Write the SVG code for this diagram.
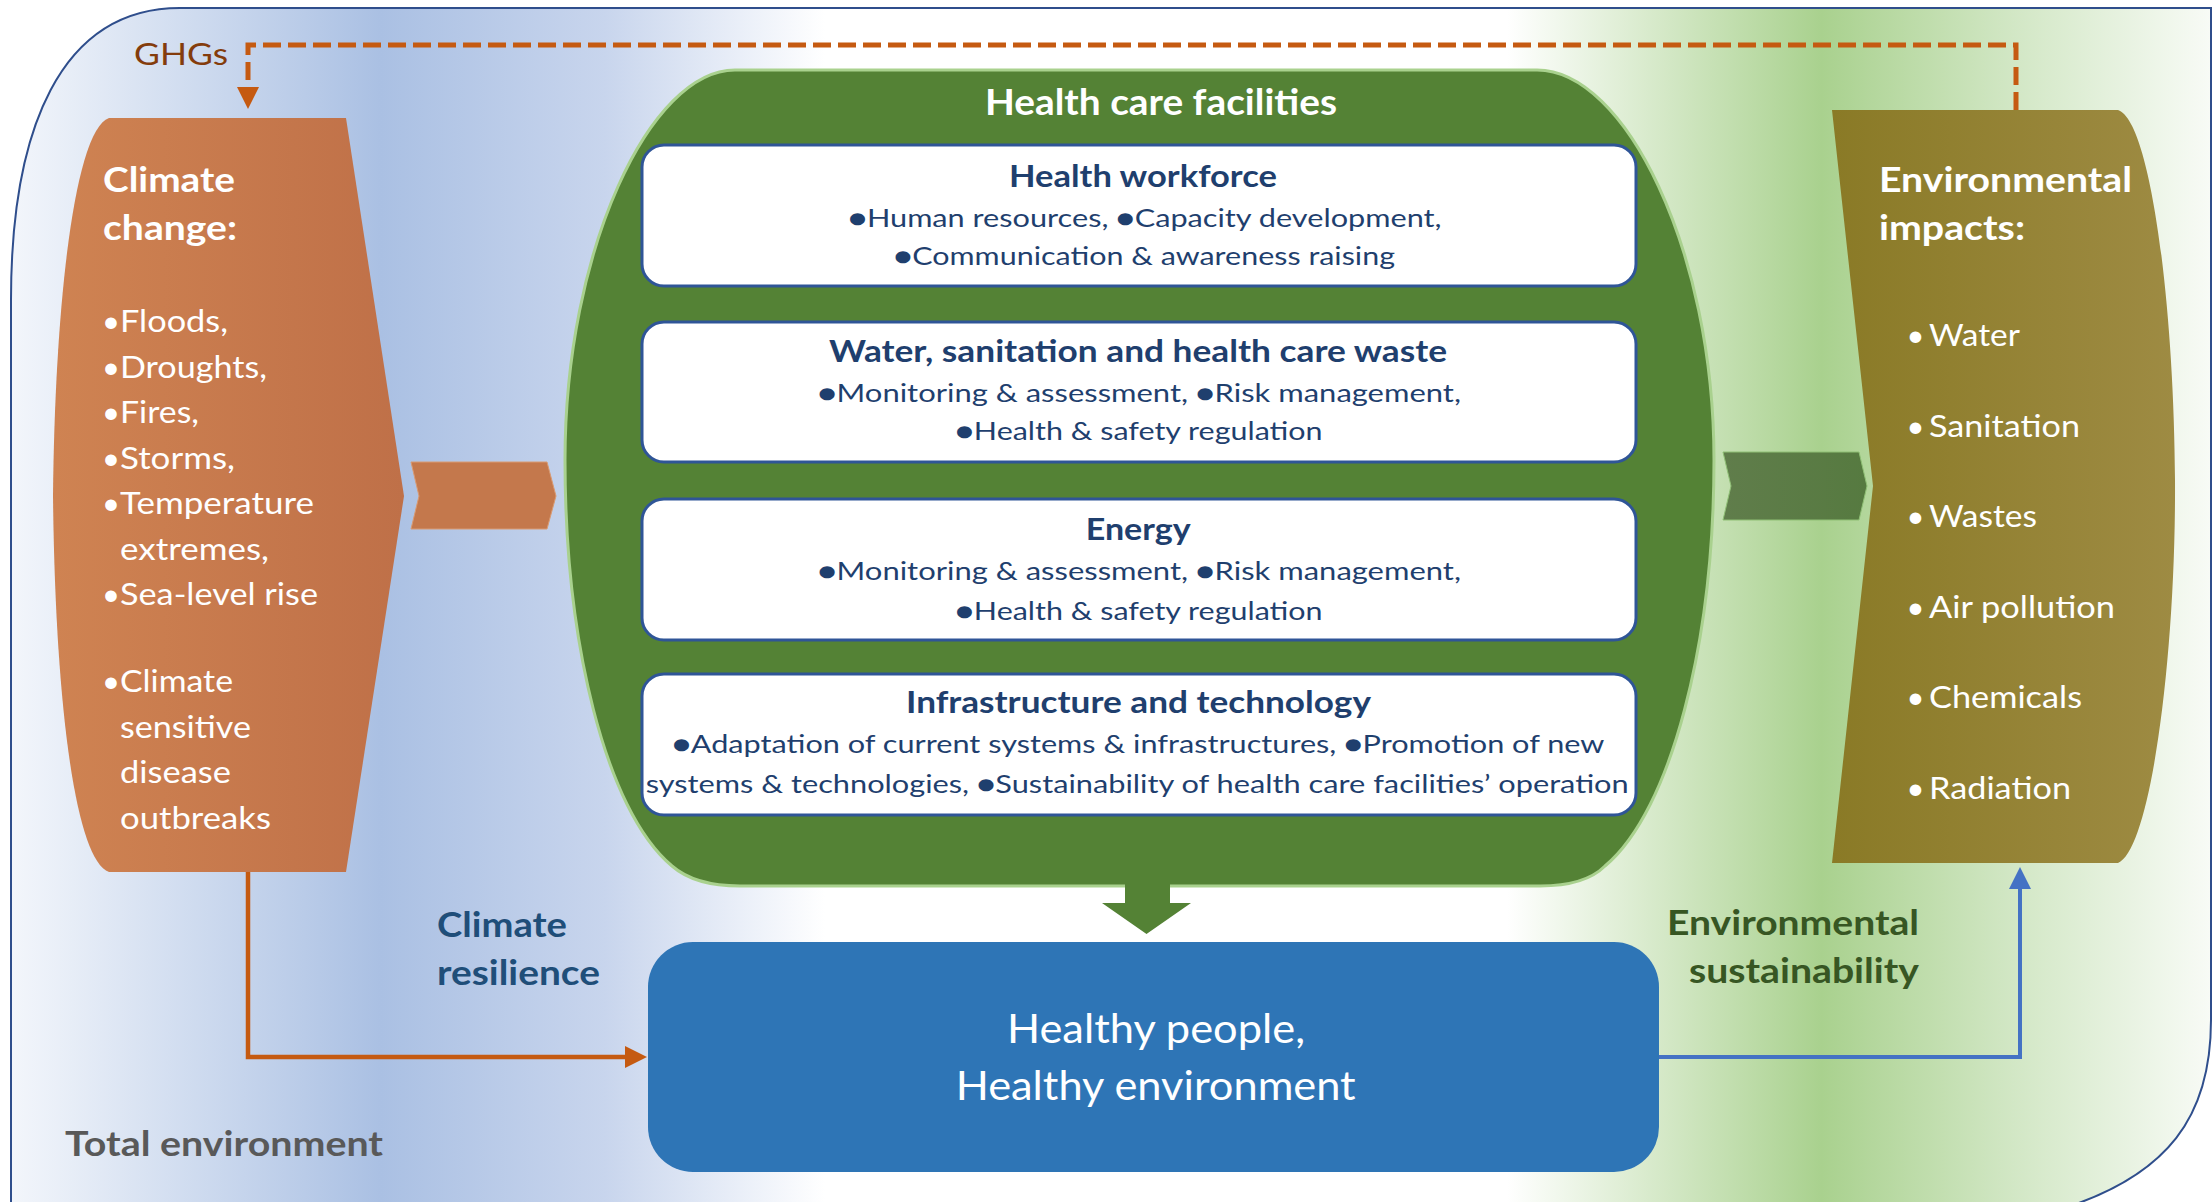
<svg xmlns="http://www.w3.org/2000/svg" width="2212" height="1202" viewBox="0 0 2212 1202">
<defs>
<linearGradient id="bg" gradientUnits="userSpaceOnUse" x1="11" y1="0" x2="2211" y2="0">
<stop offset="0" stop-color="#f3f6fb"/>
<stop offset="0.168" stop-color="#aac0e3"/>
<stop offset="0.27" stop-color="#c8d5ed"/>
<stop offset="0.37" stop-color="#ffffff"/>
<stop offset="0.68" stop-color="#ffffff"/>
<stop offset="0.823" stop-color="#a9d18e"/>
<stop offset="0.91" stop-color="#d2e7c5"/>
<stop offset="1" stop-color="#f8fbf6"/>
</linearGradient>
<linearGradient id="orange" x1="0" y1="0" x2="1" y2="0">
<stop offset="0" stop-color="#cf8352"/>
<stop offset="1" stop-color="#bf7048"/>
</linearGradient>
<linearGradient id="brown" x1="0" y1="0" x2="1" y2="0">
<stop offset="0" stop-color="#8a7a26"/>
<stop offset="1" stop-color="#9e8b43"/>
</linearGradient>
<linearGradient id="chevG" x1="0" y1="0" x2="1" y2="0">
<stop offset="0" stop-color="#607d4b"/>
<stop offset="1" stop-color="#567a40"/>
</linearGradient>
<marker id="ahO" markerUnits="userSpaceOnUse" markerWidth="22" markerHeight="22" viewBox="0 0 22 22" refX="0" refY="11" orient="auto">
<path d="M0,0 L22,11 L0,22 Z" fill="#c55a11"/>
</marker>
<marker id="ahB" markerUnits="userSpaceOnUse" markerWidth="22" markerHeight="22" viewBox="0 0 22 22" refX="0" refY="11" orient="auto">
<path d="M0,0 L22,11 L0,22 Z" fill="#4472c4"/>
</marker>
</defs>
<style>
text{font-family:Lato,"Liberation Sans","DejaVu Sans",sans-serif}
.b{font-weight:700}
.w{fill:#ffffff}
.nb{fill:#1f3f6e}
.box{fill:#ffffff;stroke:#2f5597;stroke-width:3}
.conn{fill:none}
</style>

<g id="total-environment">
<path d="M11,1230 V300 C11,130 60,8 180,8 H2211 V1020 C2211,1110 2175,1180 2040,1215 L11,1230 Z" fill="url(#bg)" stroke="#2f4e8c" stroke-width="2"/>
<text class="b" x="65" y="1156" font-size="35" fill="#595959" textLength="318" lengthAdjust="spacingAndGlyphs">Total environment</text>
</g>

<g id="climate-change">
<path d="M109,118 H346 L404,496 L346,872 H109 C75,860 55,700 53,495 C55,300 75,130 109,118 Z" fill="url(#orange)"/>
<text class="b w" x="103" y="192" font-size="34" textLength="132" lengthAdjust="spacingAndGlyphs">Climate</text>
<text class="b w" x="103" y="240" font-size="34" textLength="134" lengthAdjust="spacingAndGlyphs">change:</text>
<g class="w" font-size="31">
<text class="w" x="111" y="332" text-anchor="middle">•</text><text class="w" x="120" y="332" textLength="108" lengthAdjust="spacingAndGlyphs">Floods,</text>
<text class="w" x="111" y="377.5" text-anchor="middle">•</text><text class="w" x="120" y="377.5" textLength="147" lengthAdjust="spacingAndGlyphs">Droughts,</text>
<text class="w" x="111" y="423" text-anchor="middle">•</text><text class="w" x="120" y="423" textLength="79" lengthAdjust="spacingAndGlyphs">Fires,</text>
<text class="w" x="111" y="468.5" text-anchor="middle">•</text><text class="w" x="120" y="468.5" textLength="115" lengthAdjust="spacingAndGlyphs">Storms,</text>
<text class="w" x="111" y="514" text-anchor="middle">•</text><text class="w" x="120" y="514" textLength="194" lengthAdjust="spacingAndGlyphs">Temperature</text>
<text class="w" x="120" y="559.5" textLength="149" lengthAdjust="spacingAndGlyphs">extremes,</text>
<text class="w" x="111" y="605" text-anchor="middle">•</text><text class="w" x="120" y="605" textLength="198" lengthAdjust="spacingAndGlyphs">Sea-level rise</text>
<text class="w" x="111" y="692" text-anchor="middle">•</text><text class="w" x="120" y="692" textLength="113" lengthAdjust="spacingAndGlyphs">Climate</text>
<text class="w" x="120" y="737.5" textLength="131" lengthAdjust="spacingAndGlyphs">sensitive</text>
<text class="w" x="120" y="783" textLength="111" lengthAdjust="spacingAndGlyphs">disease</text>
<text class="w" x="120" y="828.5" textLength="151" lengthAdjust="spacingAndGlyphs">outbreaks</text>
</g>
</g>

<g id="environmental-impacts">
<path d="M1832,110 H2118 C2150,120 2174,300 2175,480 C2176,660 2150,850 2118,863 H1832 L1873,486 Z" fill="url(#brown)"/>
<text class="b w" x="1879" y="192" font-size="34" textLength="253" lengthAdjust="spacingAndGlyphs">Environmental</text>
<text class="b w" x="1879" y="240" font-size="34" textLength="146" lengthAdjust="spacingAndGlyphs">impacts:</text>
<g font-size="31">
<text class="w" x="1915.5" y="346" text-anchor="middle">•</text><text class="w" x="1929" y="346" textLength="91" lengthAdjust="spacingAndGlyphs">Water</text>
<text class="w" x="1915.5" y="436.5" text-anchor="middle">•</text><text class="w" x="1929" y="436.5" textLength="151" lengthAdjust="spacingAndGlyphs">Sanitation</text>
<text class="w" x="1915.5" y="527" text-anchor="middle">•</text><text class="w" x="1929" y="527" textLength="108" lengthAdjust="spacingAndGlyphs">Wastes</text>
<text class="w" x="1915.5" y="617.5" text-anchor="middle">•</text><text class="w" x="1929" y="617.5" textLength="186" lengthAdjust="spacingAndGlyphs">Air pollution</text>
<text class="w" x="1915.5" y="708" text-anchor="middle">•</text><text class="w" x="1929" y="708" textLength="153" lengthAdjust="spacingAndGlyphs">Chemicals</text>
<text class="w" x="1915.5" y="798.5" text-anchor="middle">•</text><text class="w" x="1929" y="798.5" textLength="142" lengthAdjust="spacingAndGlyphs">Radiation</text>
</g>
</g>

<g id="health-care-facilities">
<path d="M735,70 H1537 C1625,70 1714,250 1714,460 C1714,640 1672,810 1605,866 Q1585,886 1540,886 H740 Q695,886 672,866 C605,810 565,640 565,460 C565,250 650,70 735,70 Z" fill="#548235" stroke="#a9d18e" stroke-width="3"/>
<text class="b w" x="985" y="115" font-size="36" textLength="352" lengthAdjust="spacingAndGlyphs">Health care facilities</text>
</g>

<g id="health-workforce">
<rect class="box" x="642" y="145" width="994" height="141" rx="22"/>
<text class="b nb" x="1009" y="187" font-size="31" textLength="268" lengthAdjust="spacingAndGlyphs">Health workforce</text>
<text class="nb" x="848.5" y="227" font-size="25" textLength="593" lengthAdjust="spacingAndGlyphs">●Human resources, ●Capacity development,</text>
<text class="nb" x="894" y="265" font-size="25" textLength="501" lengthAdjust="spacingAndGlyphs">●Communication &amp; awareness raising</text>
</g>

<g id="wash-waste">
<rect class="box" x="642" y="322" width="994" height="140" rx="22"/>
<text class="b nb" x="829" y="362" font-size="31" textLength="618" lengthAdjust="spacingAndGlyphs">Water, sanitation and health care waste</text>
<text class="nb" x="818" y="402" font-size="25" textLength="643" lengthAdjust="spacingAndGlyphs">●Monitoring &amp; assessment, ●Risk management,</text>
<text class="nb" x="955.6" y="440" font-size="25" textLength="367" lengthAdjust="spacingAndGlyphs">●Health &amp; safety regulation</text>
</g>

<g id="energy">
<rect class="box" x="642" y="499" width="994" height="141" rx="22"/>
<text class="b nb" x="1085.7" y="540" font-size="31" textLength="105" lengthAdjust="spacingAndGlyphs">Energy</text>
<text class="nb" x="818" y="580" font-size="25" textLength="643" lengthAdjust="spacingAndGlyphs">●Monitoring &amp; assessment, ●Risk management,</text>
<text class="nb" x="955.6" y="620" font-size="25" textLength="367" lengthAdjust="spacingAndGlyphs">●Health &amp; safety regulation</text>
</g>

<g id="infrastructure-technology">
<rect class="box" x="642" y="674" width="994" height="141" rx="22"/>
<text class="b nb" x="906" y="713" font-size="31" textLength="465" lengthAdjust="spacingAndGlyphs">Infrastructure and technology</text>
<text class="nb" x="672.4" y="753" font-size="25" textLength="932" lengthAdjust="spacingAndGlyphs">●Adaptation of current systems &amp; infrastructures, ●Promotion of new</text>
<text class="nb" x="645.7" y="793" font-size="25" textLength="983" lengthAdjust="spacingAndGlyphs">systems &amp; technologies, ●Sustainability of health care facilities’ operation</text>
</g>

<g id="healthy-outcome">
<rect x="648" y="942" width="1011" height="230" rx="45" fill="#2e75b6"/>
<text class="w" x="1007" y="1043" font-size="41" textLength="298" lengthAdjust="spacingAndGlyphs">Healthy people,</text>
<text class="w" x="955.7" y="1100" font-size="41" textLength="400" lengthAdjust="spacingAndGlyphs">Healthy environment</text>
</g>

<g id="label-climate-resilience">
<text class="b" x="437" y="937" font-size="35" fill="#1f4e79" textLength="130" lengthAdjust="spacingAndGlyphs">Climate</text>
<text class="b" x="437" y="985" font-size="35" fill="#1f4e79" textLength="163" lengthAdjust="spacingAndGlyphs">resilience</text>
</g>

<g id="label-environmental-sustainability">
<text class="b" x="1667" y="935" font-size="35" fill="#375623" textLength="252" lengthAdjust="spacingAndGlyphs">Environmental</text>
<text class="b" x="1689" y="983" font-size="35" fill="#375623" textLength="230" lengthAdjust="spacingAndGlyphs">sustainability</text>
</g>

<g id="label-ghgs">
<text x="134" y="65" font-size="31" fill="#843c0c" textLength="94" lengthAdjust="spacingAndGlyphs">GHGs</text>
</g>

<g id="connectors">
<path class="conn" d="M2016,110 V45 H248 V87" stroke="#c55a11" stroke-width="5" stroke-dasharray="18 7" marker-end="url(#ahO)"/>
<path class="conn" d="M248,872 V1057 H625" stroke="#c55a11" stroke-width="4.5" marker-end="url(#ahO)"/>
<path class="conn" d="M1659,1057 H2020 V889" stroke="#4472c4" stroke-width="4" marker-end="url(#ahB)"/>
<polygon points="411,462 547,462 556,496 547,529 411,529 419,496" fill="#c4784c" stroke="#d99a72" stroke-width="1"/>
<polygon points="1723,452 1859,452 1867,486 1859,520 1723,520 1731,486" fill="url(#chevG)" stroke="#8fbf75" stroke-width="1"/>
<polygon points="1125,884 1170,884 1170,903 1191,903 1146.5,934 1102,903 1125,903" fill="#548235"/>
</g>
</svg>
